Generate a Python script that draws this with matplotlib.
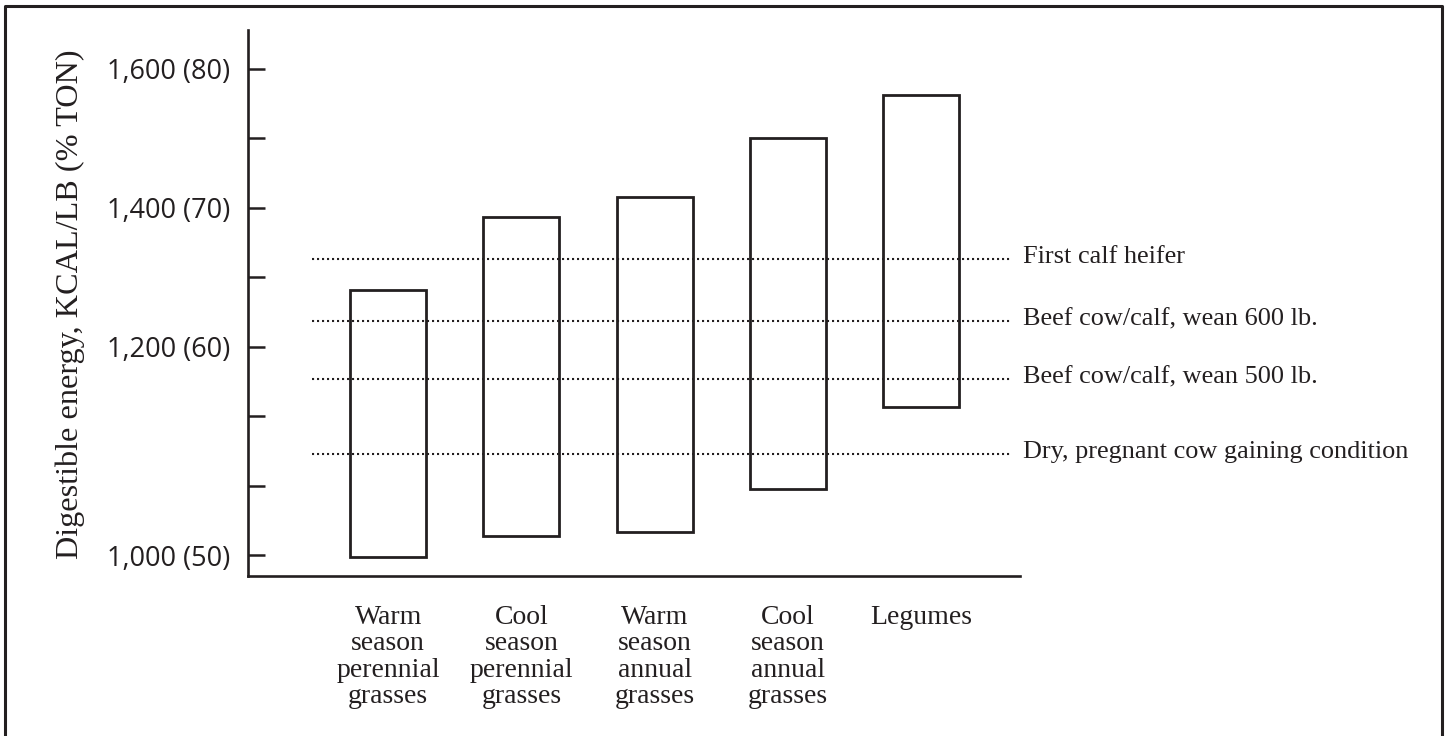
import matplotlib
matplotlib.use("Agg")
import matplotlib.pyplot as plt
from matplotlib.lines import Line2D

# forage groups, digestible energy ranges (kcal/lb)
categories = [
    "Warm\nseason\nperennial\ngrasses",
    "Cool\nseason\nperennial\ngrasses",
    "Warm\nseason\nannual\ngrasses",
    "Cool\nseason\nannual\ngrasses",
    "Legumes",
]
range_low = [898, 928, 934, 996, 1114]
range_high = [1282, 1387, 1416, 1501, 1563]

# animal requirement levels
req_labels = [
    "First calf heifer",
    "Beef cow/calf, wean 600 lb.",
    "Beef cow/calf, wean 500 lb.",
    "Dry, pregnant cow gaining condition",
]
req_values = [1327, 1237, 1154, 1046]

# y ticks (the printed axis puts "1,000 (50)" on its lowest tick)
ytick_values = [900, 1000, 1100, 1200, 1300, 1400, 1500, 1600]
ytick_labels = ["1,000 (50)", "", "", "1,200 (60)", "", "1,400 (70)", "", "1,600 (80)"]

ink = "#231f20"
serif = "Liberation Serif"

fig = plt.figure(figsize=(14.45, 7.36), dpi=100)
ax = fig.add_axes([248 / 1445, 160 / 736, 772 / 1445, 546 / 736])

xpos = list(range(len(categories)))
heights = [h - l for l, h in zip(range_low, range_high)]
ax.bar(xpos, heights, bottom=range_low, width=0.571, facecolor="none",
       edgecolor=ink, linewidth=2.0, zorder=3)

ax.hlines(req_values, -0.571, 4.677, colors=ink, linewidth=1.5,
          linestyles=(0, (1, 1.4)), zorder=2)
for lab, v in zip(req_labels, req_values):
    ax.annotate(lab, (4.767, v), xytext=(0, -3), textcoords="offset points",
                ha="left", va="baseline", fontsize=18.9, family=serif,
                color=ink, annotation_clip=False)

ax.set_xlim(-1.053, 4.744)
ax.set_ylim(870.5, 1656)
ax.set_xticks(xpos)
ax.set_xticklabels(categories, family=serif, fontsize=20, color=ink,
                   linespacing=1.07, va="top")
ax.set_yticks(ytick_values)
ax.set_yticklabels(ytick_labels, family="Open Sans", fontsize=19.5, color=ink)
ax.tick_params(axis="x", length=0, pad=21)
ax.tick_params(axis="y", direction="in", length=12, width=1.8, pad=13, color=ink)

for side in ["top", "right"]:
    ax.spines[side].set_visible(False)
for side in ["left", "bottom"]:
    ax.spines[side].set_linewidth(1.9)
    ax.spines[side].set_color(ink)

fig.text(70 / 1445, 1 - 304 / 736, "Digestible energy, KCAL/LB (% TON)",
         rotation=90, ha="center", va="center", fontsize=23.2, family=serif,
         color=ink)

# frame around the figure (open at the bottom edge)
x0, x1, yt = 5 / 1445, 1442 / 1445, 1 - 6 / 736
fig.add_artist(Line2D([x0, x0, x1, x1], [-0.01, yt, yt, -0.01],
                      transform=fig.transFigure, color=ink, linewidth=2.2))

fig.savefig("out.png", dpi=100)
